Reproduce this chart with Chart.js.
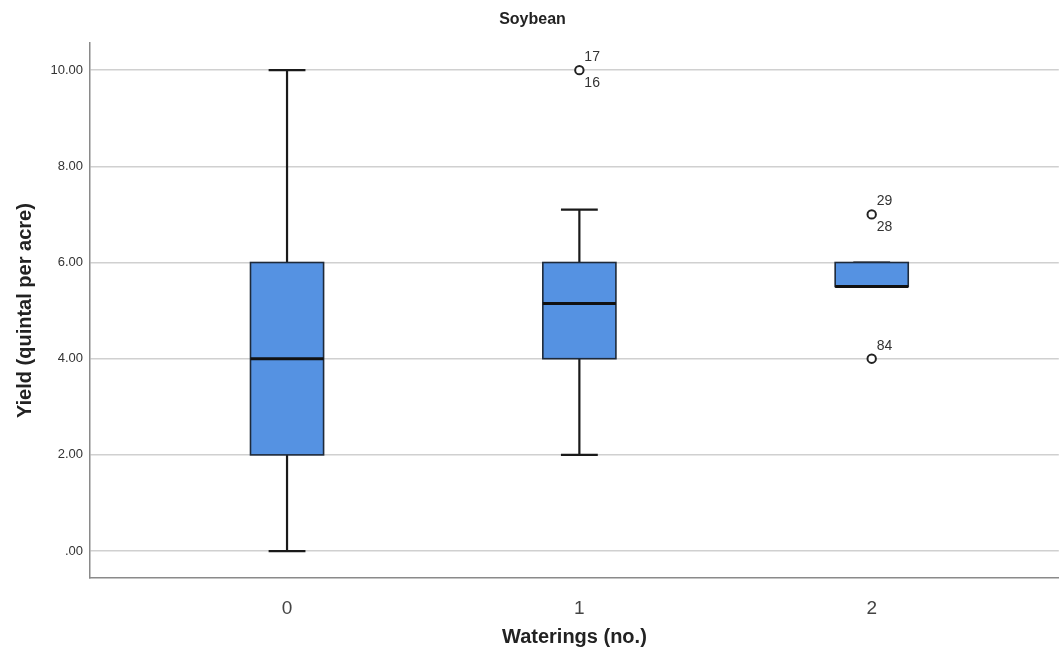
<!DOCTYPE html>
<html>
<head>
<meta charset="utf-8">
<script src="https://cdn.jsdelivr.net/npm/chart.js@4"></script>
<style>
  html, body { margin: 0; padding: 0; background: #fff; overflow: hidden; }
  #wrap { width: 1059px; height: 654px; overflow: hidden; }
</style>
</head>
<body>
<div id="wrap"><canvas id="box-chart" width="1065" height="654"></canvas></div>
<script>
// groups on the x axis
const groups = ['0', '1', '2'];
const groupX = [0, 1, 2];

// box statistics per group
const whiskerLow = [0, 2, 5.5];
const q1 = [2, 4, 5.5];
const median = [4, 5.15, 5.5];
const q3 = [6, 6, 6];
const whiskerHigh = [10, 7.1, 6];

// outliers with their case labels
const outlierX = [1, 2, 2];
const outlierY = [10, 7, 4];
const outlierLabels = [['17', '16'], ['29', '28'], ['84']];

const yTicks = [0, 2, 4, 6, 8, 10];

const BOX_HALF = 0.125;
const CAP_HALF = 0.063;
const FONT = 'Arial, "Liberation Sans", sans-serif';

const boxPlugin = {
  id: 'boxes',
  beforeDatasetsDraw(chart) {
    const { ctx, scales: { x, y } } = chart;
    ctx.save();
    for (let i = 0; i < groups.length; i++) {
      const cx = x.getPixelForValue(groupX[i]);
      const left = x.getPixelForValue(groupX[i] - BOX_HALF);
      const right = x.getPixelForValue(groupX[i] + BOX_HALF);
      const capL = x.getPixelForValue(groupX[i] - CAP_HALF);
      const capR = x.getPixelForValue(groupX[i] + CAP_HALF);
      const yQ1 = y.getPixelForValue(q1[i]);
      const yQ3 = y.getPixelForValue(q3[i]);
      const yLo = y.getPixelForValue(whiskerLow[i]);
      const yHi = y.getPixelForValue(whiskerHigh[i]);
      const yMed = y.getPixelForValue(median[i]);

      // whiskers
      ctx.strokeStyle = '#1a1a1a';
      ctx.lineWidth = 2.2;
      ctx.beginPath();
      ctx.moveTo(cx, yQ3); ctx.lineTo(cx, yHi);
      ctx.moveTo(capL, yHi); ctx.lineTo(capR, yHi);
      ctx.moveTo(cx, yQ1); ctx.lineTo(cx, yLo);
      ctx.moveTo(capL, yLo); ctx.lineTo(capR, yLo);
      ctx.stroke();

      // box
      ctx.fillStyle = '#5592e2';
      ctx.fillRect(left, yQ3, right - left, yQ1 - yQ3);
      ctx.lineWidth = 1.6;
      ctx.strokeStyle = '#1e2a3a';
      ctx.strokeRect(left, yQ3, right - left, yQ1 - yQ3);

      // median
      ctx.lineWidth = 3;
      ctx.strokeStyle = '#111';
      ctx.beginPath();
      ctx.moveTo(left, yMed); ctx.lineTo(right, yMed);
      ctx.stroke();
    }
    ctx.restore();
  },
  afterDatasetsDraw(chart) {
    const { ctx, scales: { x, y } } = chart;
    ctx.save();
    ctx.fillStyle = '#333';
    ctx.font = '14px ' + FONT;
    ctx.textAlign = 'left';
    ctx.textBaseline = 'middle';
    outlierLabels.forEach((labels, i) => {
      const px = x.getPixelForValue(outlierX[i]) + 5;
      const py = y.getPixelForValue(outlierY[i]);
      ctx.fillText(labels[0], px, py - 13);
      if (labels[1]) ctx.fillText(labels[1], px, py + 13);
    });
    ctx.restore();
  }
};

new Chart(document.getElementById('box-chart').getContext('2d'), {
  type: 'scatter',
  data: {
    datasets: [{
      data: outlierX.map((v, i) => ({ x: v, y: outlierY[i] })),
      pointStyle: 'circle',
      pointRadius: 4.2,
      pointBorderWidth: 2,
      pointBorderColor: '#222',
      pointBackgroundColor: '#fff'
    }]
  },
  options: {
    responsive: false,
    animation: false,
    layout: { padding: 0 },
    plugins: {
      legend: { display: false },
      tooltip: { enabled: false },
      title: {
        display: true,
        text: 'Soybean',
        color: '#222',
        font: { family: FONT, size: 16, weight: 'bold' },
        padding: { top: 10, bottom: 14 }
      }
    },
    scales: {
      x: {
        type: 'linear',
        min: -0.674,
        max: 2.64,
        afterBuildTicks: s => { s.ticks = groupX.map(v => ({ value: v })); },
        afterFit: s => { s.height = 76; },
        grid: { display: false, drawTicks: false },
        border: { display: true, color: '#8a8a8a', width: 1.5 },
        ticks: {
          padding: 19,
          color: '#444',
          font: { family: FONT, size: 19 },
          callback: v => groups[groupX.indexOf(v)]
        },
        title: {
          display: true,
          text: 'Waterings (no.)',
          color: '#222',
          font: { family: FONT, size: 20, weight: 'bold' },
          padding: { top: 0, bottom: 5 }
        }
      },
      y: {
        min: -0.56,
        max: 10.56,
        afterBuildTicks: s => { s.ticks = yTicks.map(v => ({ value: v })); },
        afterFit: s => { s.width = 90; },
        grid: { color: '#d0d0d0', lineWidth: 1.5, drawTicks: false },
        border: { display: true, color: '#8a8a8a', width: 1.5 },
        ticks: {
          padding: 7,
          color: '#333',
          font: { family: FONT, size: 13 },
          callback: v => v === 0 ? '.00' : v.toFixed(2)
        },
        title: {
          display: true,
          text: 'Yield (quintal per acre)',
          color: '#222',
          font: { family: FONT, size: 20, weight: 'bold' },
          padding: { top: 13, bottom: 10 }
        }
      }
    }
  },
  plugins: [boxPlugin]
});
</script>
</body>
</html>
